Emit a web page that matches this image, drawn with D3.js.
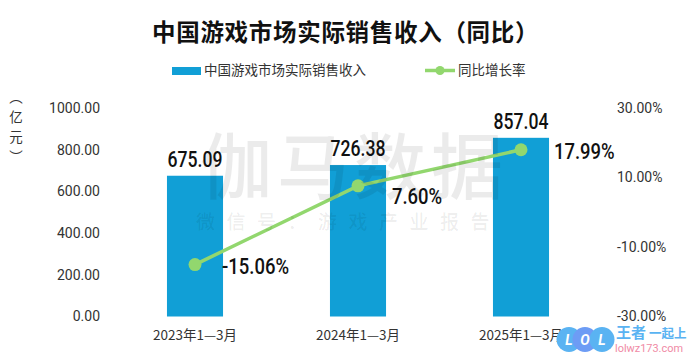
<!DOCTYPE html>
<html>
<head>
<meta charset="utf-8">
<script src="https://cdnjs.cloudflare.com/ajax/libs/d3/7.8.5/d3.min.js"></script>
<style>
  html, body { margin: 0; padding: 0; background: #fff; }
  svg { display: block; }
  text { font-family: "Noto Sans CJK SC", "Noto Sans", sans-serif; }
</style>
</head>
<body>
<div id="chart"></div>
<script>
const categories = ["2023年1—3月", "2024年1—3月", "2025年1—3月"];
const revenue = [675.09, 726.38, 857.04];
const growth = [-15.06, 7.60, 17.99];
const revenueTicks = [0, 200, 400, 600, 800, 1000];
const growthTicks = [-30, -10, 10, 30];

const width = 690;
const height = 360;
const blue = "#119fd6";
const green = "#92d76e";
const ink = "#333333";
const numFont = "Roboto, sans-serif";

const svg = d3.select("#chart").append("svg")
  .attr("width", width)
  .attr("height", height);

const x = d3.scaleBand().domain(categories).range([113.5, 602.5]).paddingInner(0.656).paddingOuter(0.328);
const yLeft = d3.scaleLinear().domain([0, 1000]).range([316.5, 108]);
const yRight = d3.scaleLinear().domain([-30, 30]).range([316.5, 108]);
const cx = d => x(d) + x.bandwidth() / 2;

svg.append("text")
  .attr("x", 152).attr("y", 41)
  .style("font-size", "23.5px")
  .style("font-weight", "700")
  .style("letter-spacing", "0.7px")
  .style("fill", "#111")
  .text("中国游戏市场实际销售收入（同比）");

// legend
svg.append("rect").attr("x", 172).attr("y", 67).attr("width", 29).attr("height", 8).attr("fill", blue);
svg.append("text").attr("x", 204).attr("y", 75)
  .style("font-size", "13.5px").style("fill", ink)
  .text("中国游戏市场实际销售收入");
svg.append("line").attr("x1", 425).attr("x2", 455).attr("y1", 70.5).attr("y2", 70.5)
  .attr("stroke", green).attr("stroke-width", 3.5);
svg.append("circle").attr("cx", 440).attr("cy", 70.5).attr("r", 4.5).attr("fill", green);
svg.append("text").attr("x", 458).attr("y", 75)
  .style("font-size", "13.5px").style("fill", ink)
  .text("同比增长率");

// left axis unit, stacked vertically
svg.append("text")
  .attr("x", 16).attr("y", 90)
  .style("writing-mode", "vertical-rl")
  .style("font-size", "13.5px")
  .style("letter-spacing", "6.5px")
  .style("fill", ink)
  .text("（亿元）");

const leftAxis = svg.append("g")
  .attr("transform", "translate(100,0)")
  .call(d3.axisLeft(yLeft).tickValues(revenueTicks).tickSize(0).tickPadding(0).tickFormat(d => d.toFixed(2)));
const rightAxis = svg.append("g")
  .attr("transform", "translate(617,0)")
  .call(d3.axisRight(yRight).tickValues(growthTicks).tickSize(0).tickPadding(0).tickFormat(d => d.toFixed(2) + "%"));
[leftAxis, rightAxis].forEach(g => {
  g.select(".domain").remove();
  g.selectAll("text")
    .style("font-family", numFont)
    .style("font-size", "14px")
    .style("fill", ink);
});

const bottomAxis = svg.append("g")
  .attr("transform", "translate(0,316.5)")
  .call(d3.axisBottom(x).tickSize(0).tickPadding(14));
bottomAxis.select(".domain").remove();
bottomAxis.selectAll("text")
  .style("font-size", "13.5px")
  .style("fill", ink);

svg.selectAll("rect.bar")
  .data(revenue)
  .join("rect")
  .attr("class", "bar")
  .attr("x", (d, i) => x(categories[i]))
  .attr("y", d => yLeft(d))
  .attr("width", x.bandwidth())
  .attr("height", d => yLeft(0) - yLeft(d))
  .attr("fill", blue);

const line = d3.line()
  .x((d, i) => cx(categories[i]))
  .y(d => yRight(d));
svg.append("path")
  .datum(growth)
  .attr("d", line)
  .attr("fill", "none")
  .attr("stroke", green)
  .attr("stroke-width", 3.5);
svg.selectAll("circle.pt")
  .data(growth)
  .join("circle")
  .attr("class", "pt")
  .attr("cx", (d, i) => cx(categories[i]))
  .attr("cy", d => yRight(d))
  .attr("r", 6.5)
  .attr("fill", green);

// watermark lies faintly over the bars and line, under the value labels
svg.append("text")
  .attr("x", 200).attr("y", 193)
  .style("font-size", "72px")
  .style("font-weight", "500")
  .style("letter-spacing", "5px")
  .style("fill", "#000")
  .style("fill-opacity", 0.08)
  .text("伽马数据");
svg.append("text")
  .attr("x", 196).attr("y", 229)
  .style("font-size", "19px")
  .style("font-weight", "500")
  .style("letter-spacing", "11.5px")
  .style("fill", "#000")
  .style("fill-opacity", 0.08)
  .text("微信号：游戏产业报告");

// condensed value labels
const condensed = (sel, px, py, sx) => sel
  .attr("transform", (d, i) => `translate(${px(d, i)},${py(d, i)}) scale(${sx},1)`)
  .style("font-family", numFont)
  .style("font-size", "22px")
  .style("font-weight", "500")
  .style("fill", "#111");

svg.selectAll("text.val")
  .data(revenue)
  .join("text")
  .attr("class", "val")
  .attr("text-anchor", "middle")
  .call(condensed, (d, i) => cx(categories[i]), d => yLeft(d) - 9, 0.8)
  .text(d => d.toFixed(2));

svg.selectAll("text.pct")
  .data(growth)
  .join("text")
  .attr("class", "pct")
  .call(condensed, (d, i) => cx(categories[i]) + [27, 34, 33][i], d => yRight(d) + 9 + (d === 7.6 ? 9 : 0), 0.84)
  .text(d => d.toFixed(2) + "%");

// site logo, bottom right corner
const logoX = [569, 585, 602];
const logoC = ["#5ab3f2", "#6d9cf5", "#5ab3f2"];
const logoT = ["L", "O", "L"];
logoX.forEach((lx, i) => {
  svg.append("circle").attr("cx", lx).attr("cy", 339.5).attr("r", 12.5).attr("fill", logoC[i]);
});
logoX.forEach((lx, i) => {
  svg.append("text").attr("x", lx).attr("y", 344.5).attr("text-anchor", "middle")
    .style("font-family", numFont).style("font-size", "14px").style("font-weight", "700")
    .style("font-style", "italic").style("fill", "#fff").text(logoT[i]);
});
const siteName = svg.append("text").attr("x", 616).attr("y", 338)
  .style("font-weight", "700").style("fill", "#5ab3f2");
siteName.append("tspan").style("font-size", "15px").text("王者");
siteName.append("tspan").attr("dx", 3).style("font-size", "12.5px").text("一起上");
svg.append("text").attr("x", 615).attr("y", 352)
  .attr("textLength", 68).attr("lengthAdjust", "spacingAndGlyphs")
  .style("font-family", numFont).style("font-size", "11px").style("fill", "#f08aa5")
  .text("lolwz173.com");
</script>
</body>
</html>
